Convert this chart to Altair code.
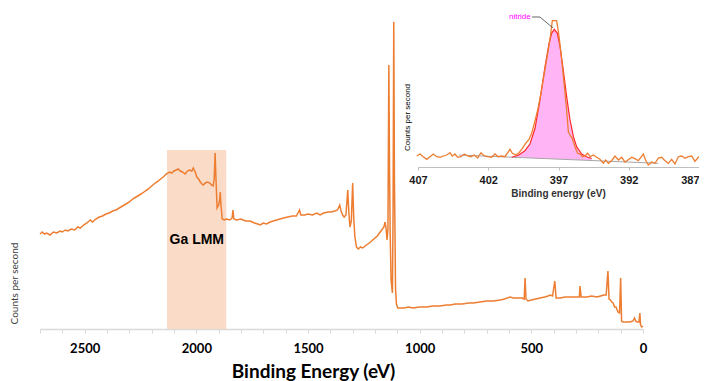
import altair as alt
import pandas as pd

# ---------------- survey spectrum (main panel) ----------------
survey_ev = [2700, 2690, 2680, 2670, 2655, 2640, 2625, 2610, 2600, 2587, 2575, 2560, 2545, 2530, 2520,
             2505, 2490, 2475, 2465, 2450, 2435, 2420, 2405, 2390, 2375, 2360, 2345, 2330, 2315, 2300,
             2285, 2270, 2255, 2240, 2229, 2215, 2200, 2184, 2170, 2160, 2148, 2135, 2120, 2110, 2100,
             2090, 2081, 2072, 2062, 2050, 2040, 2030, 2020, 2014, 2005, 1998, 1990, 1982, 1975, 1969,
             1960, 1950, 1940, 1932, 1925, 1920, 1916, 1912, 1907, 1900, 1895, 1893, 1890, 1884, 1875,
             1865, 1850, 1840, 1836, 1832, 1820, 1800, 1780, 1759, 1740, 1725, 1714, 1700, 1685, 1670,
             1655, 1640, 1625, 1610, 1590, 1570, 1552, 1538, 1532, 1515, 1500, 1480, 1460, 1446, 1430,
             1410, 1395, 1380, 1368, 1358, 1352, 1345, 1338, 1330, 1322, 1317, 1312, 1306, 1300, 1295,
             1290, 1283, 1275, 1265, 1255, 1244, 1232, 1220, 1210, 1200, 1190, 1180, 1170, 1160, 1155,
             1150, 1146, 1142, 1138, 1135, 1132, 1128, 1122, 1119, 1116, 1113, 1108, 1104, 1098, 1088,
             1070, 1050, 1030, 1000, 970, 940, 910, 880, 864, 840, 810, 780, 760, 730, 700,
             670, 640, 620, 595, 580, 560, 542, 532, 528, 524, 515, 500, 480, 461, 440,
             425, 416, 405, 395, 389, 370, 350, 327, 300, 285, 282, 277, 250, 230, 206,
             190, 175, 165, 157, 152, 146, 140, 134, 127, 121, 112, 105, 100, 96, 90,
             75, 58, 45, 38, 33, 26, 18, 14, 11, 6, 0]
survey_cps = [95, 97, 95, 96, 94, 97, 96, 98, 97, 99, 98, 100, 99, 102, 101,
              104, 106, 109, 107, 110, 112, 113, 115, 116, 118, 119, 121, 123, 125, 127,
              130, 132, 134, 136, 138, 140, 143, 146, 148, 150, 152, 155, 157, 156, 158,
              159, 160, 158, 157, 155, 158, 159, 158, 161, 157, 152, 150, 147, 145, 144,
              146, 147, 146, 144, 143, 150, 176, 150, 121, 124, 130, 137, 125, 110, 109,
              110, 109, 111, 119, 110, 109, 110, 108, 108, 106, 105, 104, 106, 105, 107,
              108, 109, 110, 111, 112, 113, 113, 119, 114, 114, 115, 114, 116, 114, 116,
              117, 117, 118, 119, 124, 118, 114, 112, 114, 139, 116, 102, 108, 146, 110,
              92, 82, 80, 82, 81, 83, 85, 87, 89, 91, 93, 96, 99, 102, 107,
              100, 89, 100, 264, 160, 96, 49, 36, 120, 307, 150, 40, 25, 21, 21,
              21, 22, 21, 22, 22, 23, 23, 24, 24, 25, 25, 26, 26, 27, 28,
              28, 29, 30, 32, 31, 31, 31, 30, 51, 30, 28, 29, 30, 31, 32,
              33, 34, 33, 48, 31, 31, 32, 32, 32, 32, 43, 32, 32, 33, 32,
              33, 34, 34, 58, 30, 29, 27, 26, 22, 22, 17, 16, 51, 8, 7,
              7, 7, 8, 11, 8, 7, 7, 16, 4, 2, 3]

# Ga LMM Auger region
lmm_start = [2131]
lmm_end = [1866]
lmm_top = [179]
lmm_label = ["Ga LMM"]
lmm_label_ev = [1998]
lmm_label_cps = [89]

main_ticks = list(range(0, 2701, 100))

# ---------------- N 1s high resolution (inset) ----------------
hr_ev = [407.09, 406.86, 406.62, 406.38, 406.15, 405.91, 405.67, 405.43, 405.20, 404.96,
         404.72, 404.56, 404.37, 404.18, 403.94, 403.70, 403.47, 403.23, 402.99, 402.75,
         402.52, 402.28, 402.04, 401.76, 401.52, 401.29, 401.05, 400.81, 400.45, 400.29,
         400.05, 399.81, 399.57, 399.34, 399.10, 398.91, 398.72, 398.48, 398.25, 398.01,
         397.77, 397.58, 397.44, 397.13, 396.96, 396.77, 396.58, 396.42, 396.30, 396.18,
         396.02, 395.83, 395.64, 395.45, 395.30, 395.11, 394.93, 394.73, 394.52, 394.28,
         394.05, 393.81, 393.64, 393.45, 393.22, 392.98, 392.74, 392.50, 392.27, 392.03,
         391.79, 391.56, 391.32, 390.96, 390.80, 390.61, 390.37, 390.13, 389.89, 389.66,
         389.42, 389.18, 388.95, 388.71, 388.47, 388.23, 388.00, 387.76, 387.52, 387.29,
         387.05, 386.90]
hr_cps = [11.0, 13.0, 10.3, 7.7, 10.3, 13.0, 10.3, 9.7, 11.0, 12.0,
          14.3, 11.0, 13.0, 9.7, 10.3, 13.0, 11.0, 10.3, 12.0, 9.0,
          14.3, 11.0, 10.3, 9.7, 13.0, 10.3, 11.0, 10.3, 17.7, 13.7,
          12.0, 14.3, 18.7, 23.7, 27.7, 33.7, 43.7, 57.0, 73.7, 93.7,
          113.7, 130.3, 146.3, 146.3, 130.3, 107.0, 80.3, 57.0, 35.3, 32.0,
          28.7, 20.3, 13.7, 13.0, 10.3, 11.0, 13.7, 10.3, 12.0, 9.7,
          7.7, 3.7, 7.0, 3.7, 6.3, 11.0, 7.0, 9.7, 5.0, 7.3,
          9.7, 8.3, 6.3, 13.0, 7.0, 2.0, 5.0, 3.7, 9.0, 9.7,
          6.3, 3.7, 7.7, 3.0, 10.3, 11.0, 8.7, 10.3, 11.0, 5.7,
          9.7, 11.0]

fit_ev = [400.33, 399.86, 399.39, 399.03, 398.67, 398.32, 397.96, 397.67, 397.49, 397.30,
          397.08, 396.89, 396.66, 396.42, 396.18, 395.94, 395.71, 395.35, 395.00, 394.64]
fit_cps = [9.7, 11.7, 16.3, 23.0, 38.7, 67.0, 100.3, 123.7, 133.7, 137.7,
           133.7, 120.3, 97.0, 70.3, 47.0, 30.3, 20.3, 13.0, 10.3, 8.5]
fit_base = [9.8, 9.5, 9.3, 9.0, 8.8, 8.6, 8.4, 8.2, 8.1, 8.0,
            7.9, 7.8, 7.7, 7.5, 7.4, 7.2, 7.1, 6.9, 6.7, 6.5]

bg_ev = [404.1, 389.9]
bg_cps = [12.0, 3.7]

peak_label = ["nitride"]
peak_label_ev = [399.75]
peak_label_cps = [150]
leader_ev = [398.89, 398.32, 397.39]
leader_cps = [150, 150, 139]

inset_ticks = [387, 392, 397, 402, 407]

# ---------------- data frames ----------------
survey_df = pd.DataFrame({"ev": survey_ev, "cps": survey_cps})
lmm_df = pd.DataFrame({"ev": lmm_start, "ev2": lmm_end, "cps": lmm_top, "cps2": [0]})
lmm_text_df = pd.DataFrame({"ev": lmm_label_ev, "cps": lmm_label_cps, "label": lmm_label})
hr_df = pd.DataFrame({"ev": hr_ev, "cps": hr_cps})
fit_df = pd.DataFrame({"ev": fit_ev, "cps": fit_cps, "base": fit_base})
bg_df = pd.DataFrame({"ev": bg_ev, "cps": bg_cps})
plabel_df = pd.DataFrame({"ev": peak_label_ev, "cps": peak_label_cps, "label": peak_label})
leader_df = pd.DataFrame({"ev": leader_ev, "cps": leader_cps})

ORANGE = "#ED7D31"

main_xs = alt.Scale(domain=[0, 2700], range=[603, 0], nice=False, zero=False)
main_ys = alt.Scale(domain=[0, 319], range=[319, 0], nice=False, zero=False)

main_x_axis = alt.Axis(
    values=main_ticks, format="d",
    labelExpr="datum.value % 500 === 0 ? datum.label : ''",
    labelFont="Lato", labelFontSize=13, labelFontWeight="bold", labelColor="#000000",
    labelPadding=9, labelFlush=False, labelOverlap=False,
    tickColor="#D9D9D9", tickSize=4, tickWidth=1,
    domainColor="#D9D9D9", domainWidth=1.5, grid=False,
    title="Binding Energy (eV)", titleFont="Lato", titleFontSize=19,
    titleFontWeight="bold", titleColor="#000000",
    titleX=273, titleY=48, titleAlign="center", titleBaseline="alphabetic",
)
main_y_axis = alt.Axis(
    labels=False, ticks=False, domain=False, grid=False,
    title="Counts per second", titleFont="Lato", titleFontSize=10,
    titleFontWeight="normal", titleColor="#404040",
    titleX=-26, titleY=273, titleAngle=270, titleAlign="center", titleBaseline="middle",
)


def mx():
    return alt.X("ev:Q", scale=main_xs, axis=main_x_axis)


def my():
    return alt.Y("cps:Q", scale=main_ys, axis=main_y_axis)


lmm_rect = alt.Chart(lmm_df).mark_rect(color="#F9DBC7").encode(
    x=mx(), x2="ev2:Q", y=my(), y2="cps2:Q",
)
lmm_text = alt.Chart(lmm_text_df).mark_text(
    font="Liberation Sans", fontSize=14, fontWeight="bold", color="#000000",
    align="center", baseline="middle",
).encode(x=mx(), y=my(), text="label:N")
survey_line = alt.Chart(survey_df).mark_line(color=ORANGE, strokeWidth=1.5).encode(
    x=mx(), y=my(),
)
main = alt.layer(lmm_rect, lmm_text, survey_line)

# inset scales (pixel ranges inside the main plot area)
in_xs = alt.Scale(domain=[387, 407], range=[659, 378], nice=False, zero=False)
in_ys = alt.Scale(domain=[0, 147], range=[157, 10], nice=False, zero=False)

in_x_axis = alt.Axis(
    orient="bottom", offset=-162, values=inset_ticks, format="d",
    labelFont="Liberation Sans", labelFontSize=11, labelFontWeight="bold",
    labelColor="#1A1A1A", labelPadding=4, labelFlush=False, labelOverlap=False,
    labelAlign={"condition": {"test": "datum.value === 387", "value": "right"}, "value": "center"},
    tickColor="#BFBFBF", tickSize=3, domainColor="#BFBFBF", domainWidth=1, grid=False,
    title="Binding energy (eV)", titleFont="Liberation Sans", titleFontSize=10,
    titleFontWeight="bold", titleColor="#333333",
    titleX=518, titleY=26, titleAlign="center", titleBaseline="middle",
)
in_y_axis = alt.Axis(
    orient="left", labels=False, ticks=False, domain=False, grid=False,
    title="Counts per second", titleFont="Liberation Sans", titleFontSize=8,
    titleFontWeight="normal", titleColor="#000000",
    titleX=367, titleY=107, titleAngle=270, titleAlign="center", titleBaseline="middle",
)


def ix():
    return alt.X("ev:Q", scale=in_xs, axis=in_x_axis)


def iy():
    return alt.Y("cps:Q", scale=in_ys, axis=in_y_axis)


fit_area = alt.Chart(fit_df).mark_area(color="#FFB5F5", opacity=1).encode(
    x=ix(), y=iy(), y2="base:Q",
)
bg_line = alt.Chart(bg_df).mark_line(color="#A6A6A6", strokeWidth=1).encode(x=ix(), y=iy())
fit_line = alt.Chart(fit_df).mark_line(color="#FF2A2A", strokeWidth=1.2).encode(x=ix(), y=iy())
hr_line = alt.Chart(hr_df).mark_line(color=ORANGE, strokeWidth=1.3).encode(x=ix(), y=iy())
plabel = alt.Chart(plabel_df).mark_text(
    font="Liberation Sans", fontSize=8, color="#FF00FF", align="center", baseline="middle",
).encode(x=ix(), y=iy(), text="label:N")
leader = alt.Chart(leader_df).mark_line(color="#404040", strokeWidth=0.8).encode(x=ix(), y=iy())
inset = alt.layer(fit_area, bg_line, fit_line, hr_line, plabel, leader)

chart = alt.layer(main, inset).resolve_scale(
    x="independent", y="independent"
).properties(
    width=651, height=319,
    autosize=alt.AutoSizeParams(type="none"),
    padding={"left": 32, "top": 2, "right": 8, "bottom": 52},
    background="white",
).configure_view(stroke=None)

chart.save("out.html", embed_options={"renderer": "svg", "actions": False})
